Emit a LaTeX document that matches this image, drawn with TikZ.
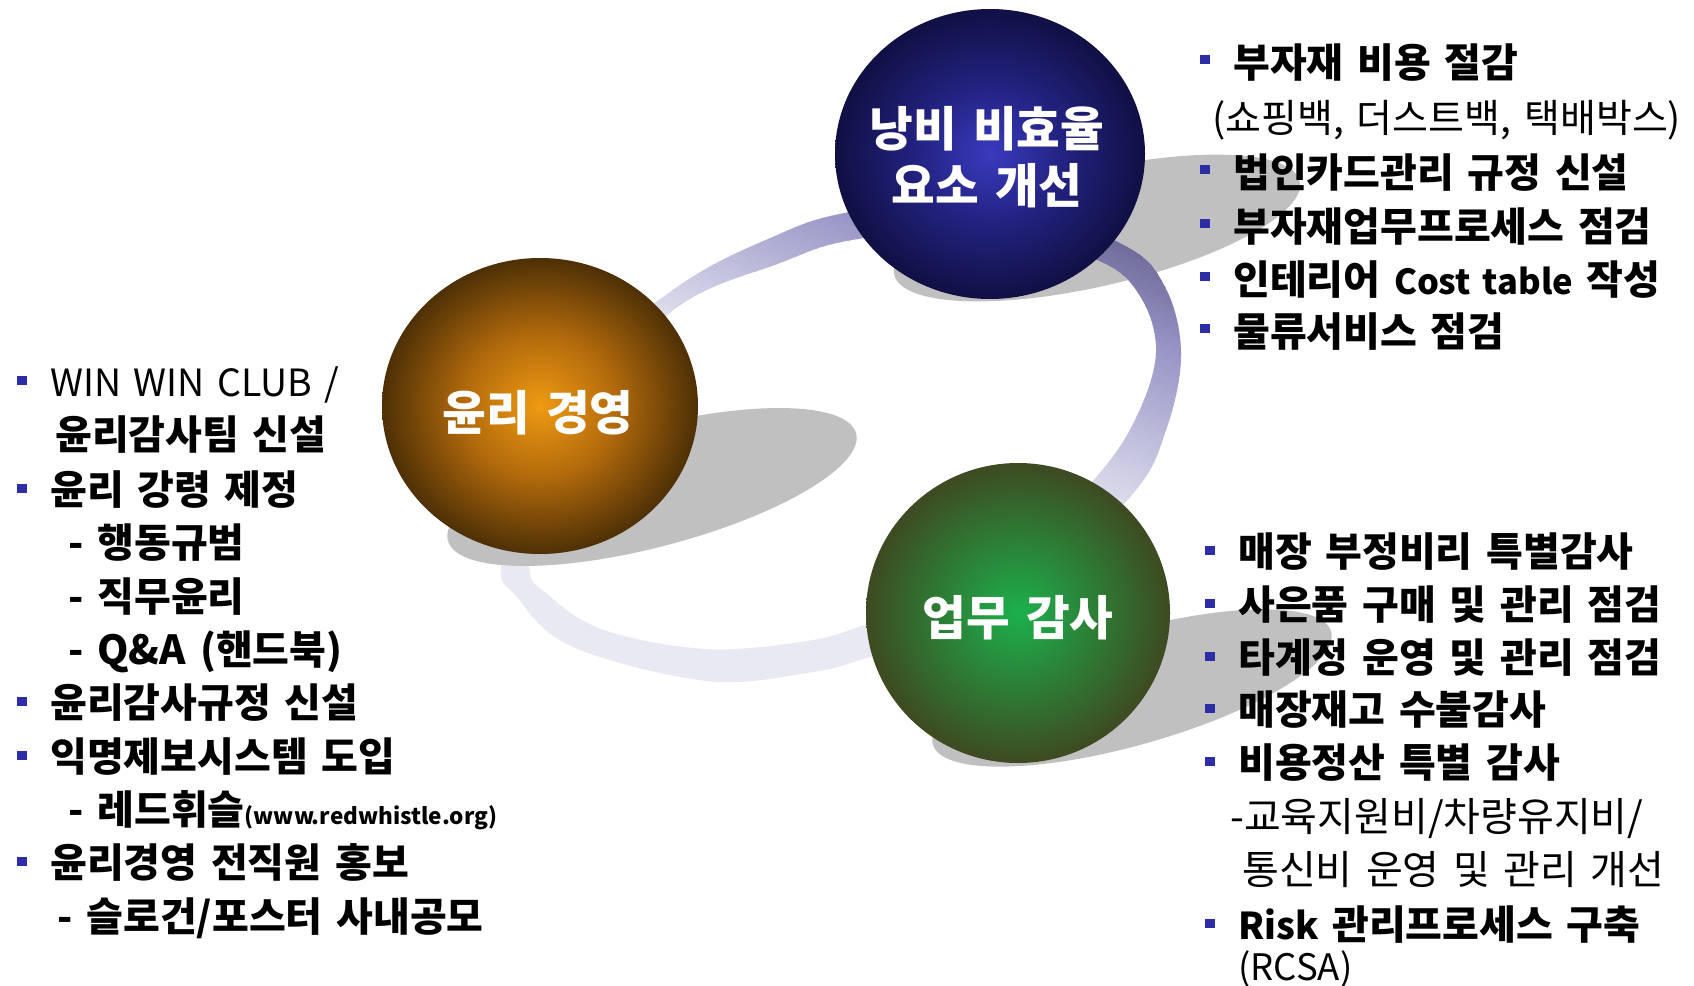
\documentclass[tikz,border=0pt]{standalone}
\usepackage{fontspec}
\setmainfont{Noto Sans CJK KR}[WordSpace=1.5]
\usetikzlibrary{shapes.geometric}
\definecolor{bulblue}{RGB}{45,45,165}
\definecolor{shadowgray}{RGB}{192,192,192}
\definecolor{ringlight}{RGB}{233,233,243}
\definecolor{ringmid}{RGB}{152,150,198}
\definecolor{ringdark}{RGB}{102,98,146}
\definecolor{bC}{RGB}{58,58,190}
\definecolor{bM}{RGB}{34,34,128}
\definecolor{bE}{RGB}{16,16,68}
\definecolor{oC}{RGB}{238,154,18}
\definecolor{oM}{RGB}{178,106,12}
\definecolor{oE}{RGB}{78,48,6}
\definecolor{gC}{RGB}{28,176,78}
\definecolor{gM}{RGB}{44,128,54}
\definecolor{gE}{RGB}{62,74,34}
\pgfdeclareradialshading{blueball}{\pgfpoint{0bp}{0bp}}{color(0bp)=(bC); color(12bp)=(bM); color(25bp)=(bE); color(50bp)=(bE)}
\pgfdeclareradialshading{orangeball}{\pgfpoint{0bp}{0bp}}{color(0bp)=(oC); color(12bp)=(oM); color(25bp)=(oE); color(50bp)=(oE)}
\pgfdeclareradialshading{greenball}{\pgfpoint{0bp}{0bp}}{color(0bp)=(gC); color(12bp)=(gM); color(25bp)=(gE); color(50bp)=(gE)}
\begin{document}
\begin{tikzpicture}[x=1pt,y=-1pt,
  ball/.style={ellipse, inner sep=0, shade},
  balltext/.style={text=white, font=\bfseries\fontsize{47.5}{57}\selectfont, align=center, inner sep=0},
  bul/.style={rectangle, fill=bulblue, minimum width=10, minimum height=9, inner sep=0},
  bt/.style={anchor=west, inner sep=0, text height=32.3pt, text depth=2.7pt, font=\bfseries\fontsize{40}{44}\selectfont},
  rt/.style={anchor=west, inner sep=0, text height=32.3pt, text depth=2.7pt, font=\mdseries\fontsize{40}{44}\selectfont},
  shadowell/.style={fill=shadowgray},
  ringshape/.style={insert path={
    plot[smooth cycle, tension=0.6] coordinates {(502,557) (517,597) (573,647) (707,681) (807,673) (870,657) (1010,610) (1130,497) (1166,430) (1181,353) (1164,285) (1120,243) (990,196) (850,212) (775,236) (673,290) (540,405)}
    plot[smooth cycle, tension=0.6] coordinates {(572,415) (676,308) (780,263) (852,240) (985,228) (1097,260) (1140,296) (1156,353) (1135,420) (1093,481) (1000,575) (867,624) (807,641) (707,649) (607,631) (551,597) (530,557)}
  }}
]
\useasboundingbox (0,0) rectangle (1694,985);
\fill[white] (0,0) rectangle (1694,985);

% shadows
\fill[shadowell, rotate around={13:(1097,228)}] (1097,228) ellipse [x radius=208, y radius=58];
\fill[shadowell, rotate around={15.8:(1132,688)}] (1132,688) ellipse [x radius=207, y radius=57];

% ring
\begin{scope}
  \clip[ringshape];
  \fill[ringlight] (400,100) rectangle (1300,800);
  \foreach \i in {0,...,62}{
    \pgfmathsetmacro\v{-70+5*\i}
    \pgfmathtruncatemacro\pa{max(0,min(100,((\v)+60)/190*100))}
    \pgfmathtruncatemacro\pb{max(0,min(100,((\v)-130)/100*100))}
    \colorlet{stripc}{ringmid!\pa!ringlight}
    \fill[ringdark!\pb!stripc] ({0.391*(\v)+1381.5},{-0.921*(\v)+586.5}) -- ({0.391*(\v)-1381.5},{-0.921*(\v)-586.5}) -- ({0.391*((\v)+6)-1381.5},{-0.921*((\v)+6)-586.5}) -- ({0.391*((\v)+6)+1381.5},{-0.921*((\v)+6)+586.5}) -- cycle;
  }
\end{scope}

\fill[shadowell, rotate around={14.7:(652,487)}] (652,487) ellipse [x radius=211, y radius=60];

% balls
\node[ball, shading=blueball, minimum width=310, minimum height=290] (waste) at (990,154) {};
\node[ball, shading=orangeball, minimum width=316, minimum height=296] (ethics) at (540,406) {};
\node[ball, shading=greenball, minimum width=304, minimum height=300] (audit) at (1018,613) {};
\node[balltext] (wasteT) at (987,157) {낭비 비효율\\요소 개선};
\node[balltext] (ethicsT) at (538,413) {윤리 경영};
\node[balltext] (auditT) at (1018,618) {업무 감사};

% left list
\node[bul] (lb1) at (22,380) {};
\node[rt, font=\mdseries\fontsize{37.5}{44}\selectfont] (l1) at (50,382) {WIN WIN CLUB /};
\node[bt] (l2) at (55,435) {윤리감사팀 신설};
\node[bul] (lb3) at (22,488) {};
\node[bt] (l3) at (50,490) {윤리 강령 제정};
\node[bt] (l4) at (68,543) {-\hspace{14pt}행동규범};
\node[bt] (l5) at (68,597) {-\hspace{14pt}직무윤리};
\node[bt] (l6) at (68,650) {-\hspace{14pt}Q\&A (핸드북)};
\node[bul] (lb7) at (22,701) {};
\node[bt] (l7) at (50,703) {윤리감사규정 신설};
\node[bul] (lb8) at (22,755) {};
\node[bt] (l8) at (50,757) {익명제보시스템 도입};
\node[bt] (l9) at (68,810) {-\hspace{14pt}레드휘슬{\fontsize{22.5}{28}\selectfont(www.redwhistle.org)}};
\node[bul] (lb10) at (22,861) {};
\node[bt] (l10) at (50,863) {윤리경영 전직원 홍보};
\node[bt] (l11) at (57,917) {-\hspace{14pt}슬로건/포스터 사내공모};

% top-right list
\node[bul] (tb1) at (1205,59) {};
\node[bt] (t1) at (1233,63) {부자재 비용 절감};
\node[rt, font=\mdseries\fontsize{39}{44}\selectfont] (t2) at (1212,118) {(쇼핑백, 더스트백, 택배박스)};
\node[bul] (tb3) at (1205,169) {};
\node[bt] (t3) at (1233,173) {법인카드관리 규정 신설};
\node[bul] (tb4) at (1205,223) {};
\node[bt] (t4) at (1233,227) {부자재업무프로세스 점검};
\node[bul] (tb5) at (1205,276) {};
\node[bt] (t5) at (1233,280) {인테리어 {\fontsize{34.5}{44}\selectfont Cost table} 작성};
\node[bul] (tb6) at (1205,328) {};
\node[bt] (t6) at (1233,332) {물류서비스 점검};

% bottom-right list
\node[bul] (bb1) at (1210,550) {};
\node[bt] (b1) at (1238,552) {매장 부정비리 특별감사};
\node[bul] (bb2) at (1210,603) {};
\node[bt] (b2) at (1238,605) {사은품 구매 및 관리 점검};
\node[bul] (bb3) at (1210,656) {};
\node[bt] (b3) at (1238,658) {타계정 운영 및 관리 점검};
\node[bul] (bb4) at (1210,708) {};
\node[bt] (b4) at (1238,710) {매장재고 수불감사};
\node[bul] (bb5) at (1210,761) {};
\node[bt] (b5) at (1238,763) {비용정산 특별 감사};
\node[rt] (b6) at (1230,817) {-교육지원비/차량유지비/};
\node[rt] (b7) at (1242,870) {통신비 운영 및 관리 개선};
\node[bul] (bb8) at (1210,923) {};
\node[bt] (b8) at (1238,925) {{\fontsize{37}{44}\selectfont Risk} 관리프로세스 구축};
\node[rt, font=\mdseries\fontsize{36.5}{40}\selectfont] (b9) at (1238,966) {(RCSA)};
\end{tikzpicture}
\end{document}
